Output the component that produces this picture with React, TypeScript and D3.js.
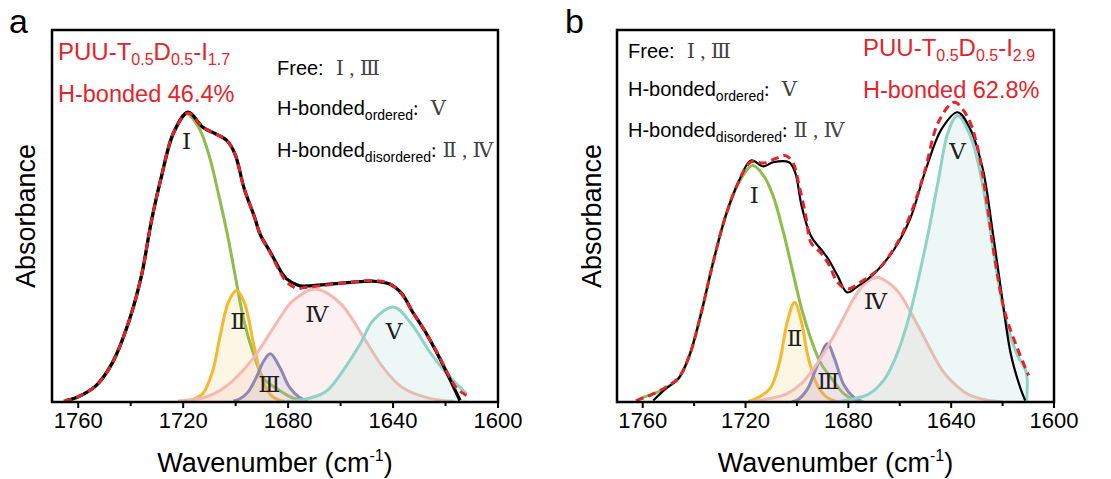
import React from "react";
import * as d3 from "d3";

type Pt = [number, number];

// ---------- axis / text data ----------
const xMajorTicks = [1760, 1720, 1680, 1640, 1600];
const xMinorTicks = [1740, 1700, 1660, 1620];
const xDomain: [number, number] = [1770, 1600];
const yDomain: [number, number] = [0, 100];
const xTitle = "Wavenumber (cm";
const xTitleSup = "-1";
const yTitle = "Absorbance";
const romanNames = ["Ⅰ", "Ⅱ", "Ⅲ", "Ⅳ", "Ⅴ"];
const compColors = ["#8dbd4a", "#f6b82c", "#777cb6", "#f2bab2", "#8fd3c8"];
const compFillOpacity = [0, 0.12, 0.14, 0.2, 0.16];

// ---------- panel a data (wavenumber, absorbance a.u.) ----------
const aMeasured: Pt[] = [
  [1764.7, 0.4], [1760.4, 1.3], [1753.1, 4.5], [1746.9, 10.7], [1740.8, 21.5],
  [1735.9, 34.1], [1732.2, 48.5], [1728.5, 60.2], [1723.6, 72.8], [1718.1, 78.2],
  [1712.6, 74.2], [1707.7, 72.4], [1703.4, 70.6], [1700.3, 67.0], [1696.7, 57.5],
  [1693.0, 50.3], [1690.5, 45.0], [1686.8, 40.5], [1683.0, 35.5], [1680.7, 33.3],
  [1676.5, 31.6], [1674.6, 31.3], [1666.0, 31.7], [1656.2, 32.3], [1647.6, 32.6],
  [1641.5, 31.9], [1636.6, 29.2], [1632.9, 24.7], [1628.0, 19.3], [1623.1, 13.0],
  [1618.1, 5.8], [1614.5, 0.4],
];
const aFit: Pt[] = [
  [1765.5, 0.2], [1760.4, 1.3], [1753.1, 4.5], [1746.9, 10.7], [1740.8, 21.5],
  [1735.9, 34.1], [1732.2, 48.5], [1728.5, 60.2], [1723.6, 72.8], [1718.1, 78.0],
  [1712.6, 74.2], [1707.7, 72.4], [1703.4, 70.6], [1700.3, 67.0], [1696.7, 57.5],
  [1693.0, 50.3], [1690.5, 45.0], [1686.8, 40.2], [1683.0, 35.0], [1680.7, 32.5],
  [1676.5, 30.6], [1674.6, 30.8], [1666.0, 31.5], [1656.2, 32.3], [1647.6, 32.8],
  [1641.5, 32.0], [1636.6, 29.0], [1632.9, 24.7], [1628.0, 19.3], [1623.1, 13.2],
  [1618.1, 6.3], [1615.5, 3.5], [1612.0, 1.8],
];
const aPeakI: Pt[] = [
  [1765.5, 0.3], [1760.4, 1.3], [1753.1, 4.5], [1746.9, 10.7], [1740.8, 21.5],
  [1735.9, 34.1], [1732.2, 48.5], [1728.5, 60.2], [1723.6, 72.5], [1718.7, 77.8],
  [1713.8, 73.7], [1710.1, 66.5], [1706.4, 55.7], [1702.8, 44.0], [1699.7, 32.3],
  [1696.7, 21.5], [1693.0, 12.6], [1689.3, 6.3], [1683.2, 3.1], [1678.3, 1.1],
  [1673.3, 0.3],
];
const aPeakII: Pt[] = [
  [1720, 0.2], [1716, 0.8], [1712.6, 2.2], [1708.9, 8.0], [1705.9, 17.9],
  [1702.8, 26.9], [1699.7, 30.1], [1696.7, 26.9], [1693.0, 15.2], [1689.9, 6.3],
  [1686.5, 1.8], [1683, 0.4], [1680, 0.1],
];
const aPeakIII: Pt[] = [
  [1701, 0.2], [1698.5, 0.8], [1695.4, 2.6], [1692, 6.8], [1689.5, 10.8], [1686.8, 13.0],
  [1683.2, 9.4], [1679.5, 4.0], [1675.8, 1.3], [1672.5, 0.3],
];
const aPeakIV: Pt[] = [
  [1722, 0.3], [1712, 1.2], [1703.7, 4.2], [1693.6, 11.5], [1684.7, 21.0],
  [1678.3, 27.2], [1669.7, 30.5], [1659.9, 26.5], [1651.3, 17.5], [1643.9, 9.4],
  [1636.6, 4.0], [1626.7, 1.1], [1617, 0.2],
];
const aPeakV: Pt[] = [
  [1682, 0.1], [1674.6, 0.6], [1666.0, 2.6], [1659.9, 7.6], [1652.5, 15.7],
  [1647.6, 22.0], [1639.6, 25.6], [1632.9, 21.0], [1625.5, 13.0], [1619.4, 7.6],
  [1612.0, 2.2],
];
const aLabelAt: Pt[] = [[1718.7, 68.4], [1699.1, 19.6], [1687.2, 2.6], [1669.1, 21.7], [1639.6, 16.9]];

// ---------- panel b data ----------
const bMeasured: Pt[] = [
  [1755.9, 0.4], [1751.0, 3.6], [1746.1, 6.3], [1741.8, 12.6], [1737.5, 23.3],
  [1732.6, 37.7], [1727.7, 50.3], [1722.8, 59.3], [1717.9, 65.2], [1713.0, 63.6],
  [1709.3, 64.7], [1703.1, 64.7], [1700.7, 62.0], [1698.2, 53.0], [1694.6, 44.9],
  [1689.7, 40.4], [1687.8, 38.6], [1684.2, 34.1], [1680.5, 29.6], [1676.8, 31.0],
  [1669.4, 35.0], [1662.1, 41.3], [1656.0, 49.4], [1649.8, 62.9], [1643.7, 73.7],
  [1637.5, 78.2], [1632.6, 73.7], [1627.7, 62.9], [1624.0, 46.7], [1620.3, 28.7],
  [1616.7, 12.6], [1613.0, 3.6], [1611.2, 0.4],
];
const bFit: Pt[] = [
  [1762.6, 0.3], [1755.9, 2.2], [1751.0, 4.0], [1746.1, 6.5], [1741.8, 12.6],
  [1737.5, 23.3], [1732.6, 37.7], [1727.7, 50.3], [1722.8, 59.3], [1717.9, 64.8],
  [1713.0, 64.5], [1708.0, 65.8], [1704.4, 66.5], [1701.5, 64.5], [1699.0, 58.0],
  [1696.5, 50.0], [1694.6, 43.1], [1690.9, 40.4], [1687.5, 37.0], [1684.2, 32.3],
  [1680.5, 30.5], [1674.3, 32.8], [1668.2, 35.9], [1660.8, 43.1], [1656.0, 50.3],
  [1650.4, 62.0], [1645.0, 75.5], [1638.8, 80.9], [1633.9, 77.3], [1630.2, 70.1],
  [1626.5, 55.7], [1622.8, 37.7], [1619.1, 24.2], [1614.2, 14.4], [1609.9, 7.2],
];
const bPeakI: Pt[] = [
  [1762.6, 0.3], [1759.6, 1.3], [1755.9, 2.2], [1751.0, 3.8], [1746.1, 6.3],
  [1741.8, 12.6], [1737.5, 23.3], [1732.6, 37.7], [1727.7, 50.3], [1722.8, 59.0],
  [1717.3, 63.8], [1713.0, 61.1], [1709.3, 55.7], [1705.6, 46.7], [1701.9, 36.0],
  [1698.2, 25.2], [1694.6, 17.1], [1690.9, 10.7], [1685.4, 5.3], [1681.7, 2.2],
  [1678.0, 0.7], [1674, 0.1],
];
const bPeakII: Pt[] = [
  [1719, 0.2], [1716.6, 0.7], [1710.5, 3.6], [1706.8, 10.7], [1703.8, 21.5],
  [1700.9, 26.9], [1698.2, 21.5], [1695.8, 12.6], [1692.1, 4.5], [1688.4, 1.3],
  [1685, 0.2],
];
const bPeakIII: Pt[] = [
  [1702, 0.1], [1699.5, 0.7], [1695.8, 3.6], [1692.1, 9.9], [1688.1, 15.7],
  [1685.4, 11.7], [1681.7, 4.5], [1678.0, 1.3], [1675, 0.2],
];
const bPeakIV: Pt[] = [
  [1718, 0.1], [1710, 1.0], [1704, 2.2], [1698.2, 5.0], [1692.7, 9.8],
  [1687.2, 16.0], [1682.2, 22.3], [1678.0, 27.8], [1673.5, 32.0], [1668.8, 33.7],
  [1664, 32.0], [1660.2, 29.4], [1652.4, 19.9], [1643.4, 8.5], [1638, 4.4],
  [1633.0, 1.9], [1626, 0.5], [1620, 0.1],
];
const bPeakV: Pt[] = [
  [1685, 0.1], [1679.2, 0.7], [1671.9, 2.2], [1665.8, 6.3], [1660.8, 13.4],
  [1655.9, 24.2], [1652.2, 35.0], [1648.6, 46.7], [1644.9, 60.2], [1641.2, 72.8],
  [1637.5, 77.3], [1632.6, 71.9], [1629.0, 62.9], [1625.3, 48.5], [1621.6, 32.3],
  [1617.9, 19.8], [1614.2, 12.6], [1610.8, 8.0], [1610.7, 0],
];
const bLabelAt: Pt[] = [[1716.6, 53.6], [1700.9, 15.0], [1687.8, 3.4], [1669.4, 25.2], [1637.5, 65.7]];

const aSample = { main: "PUU-T", s1: "0.5", m2: "D", s2: "0.5", m3: "-I", s3: "1.7", hb: "H-bonded 46.4%" };
const bSample = { main: "PUU-T", s1: "0.5", m2: "D", s2: "0.5", m3: "-I", s3: "2.9", hb: "H-bonded 62.8%" };

const SANS = "'Liberation Sans', Arial, Helvetica, sans-serif";
const SERIF = "'Liberation Serif', 'DejaVu Serif', 'Times New Roman', serif";
const RED = "#e3242b";

type PanelProps = {
  id: string;
  x0: number;
  width: number;
  letter: string;
  letterX: number;
  measured: Pt[];
  fit: Pt[];
  comps: Pt[][];
  labelAt: Pt[];
  sample: typeof aSample;
  redX: number;
  redY: number;
  legX: number;
  legYs: number[];
  measuredWidth: number;
  yTitleX: number;
};

function Panel(p: PanelProps) {
  const W = p.width;
  const top = 30;
  const bottom = 402;
  const x = d3.scaleLinear().domain(xDomain).range([p.x0, p.x0 + W]);
  const y = d3.scaleLinear().domain(yDomain).range([bottom, 31.5]);
  const curve = d3.curveCatmullRom.alpha(0.5);
  const line = d3.line<Pt>().x((d) => x(d[0])).y((d) => y(d[1])).curve(curve);
  const area = d3
    .area<Pt>()
    .x((d) => x(d[0]))
    .y0(y(0))
    .y1((d) => y(d[1]))
    .curve(curve);
  const clipId = `clip-${p.id}`;
  const cx = p.x0 + W / 2;
  const s = p.sample;
  return (
    <g>
      <defs>
        <clipPath id={clipId}>
          <rect x={p.x0} y={top} width={W} height={bottom - top} />
        </clipPath>
      </defs>
      <text x={p.letterX} y={33} fontFamily={SANS} fontSize={34} fill="#000">
        {p.letter}
      </text>
      <g clipPath={`url(#${clipId})`}>
        {p.comps.map((c, i) => (
          <g key={i}>
            {compFillOpacity[i] > 0 && (
              <path d={area(c) || ""} fill={compColors[i]} fillOpacity={compFillOpacity[i]} stroke="none" />
            )}
            <path d={line(c) || ""} fill="none" stroke={compColors[i]} strokeWidth={3} strokeLinejoin="round" />
          </g>
        ))}
        <path d={line(p.measured) || ""} fill="none" stroke="#000" strokeWidth={p.measuredWidth} strokeLinejoin="round" />
        <path d={line(p.fit) || ""} fill="none" stroke={RED} strokeWidth={3} strokeDasharray="8,5" />
      </g>
      {p.labelAt.map((d, i) => (
        <text key={i} x={x(d[0])} y={y(d[1])} textAnchor="middle" fontFamily={SERIF} fontSize={23} fill="#1e1e1e">
          {romanNames[i]}
        </text>
      ))}
      {/* frame */}
      <rect x={p.x0} y={top} width={W} height={bottom - top} fill="none" stroke="#000" strokeWidth={2.5} />
      {xMajorTicks.map((t) => (
        <g key={t}>
          <line x1={x(t)} x2={x(t)} y1={bottom} y2={bottom + 6} stroke="#000" strokeWidth={2} />
          <text x={x(t)} y={428} textAnchor="middle" fontFamily={SANS} fontSize={22} fill="#000">
            {t}
          </text>
        </g>
      ))}
      {xMinorTicks.map((t) => (
        <line key={t} x1={x(t)} x2={x(t)} y1={bottom} y2={bottom + 4} stroke="#000" strokeWidth={2} />
      ))}
      <text x={cx} y={472} textAnchor="middle" fontFamily={SANS} fontSize={27} fill="#000">
        {xTitle}
        <tspan fontSize={16} dy={-11}>{xTitleSup}</tspan>
        <tspan dy={11}>)</tspan>
      </text>
      <text
        transform={`translate(${p.yTitleX},${(top + bottom) / 2}) rotate(-90)`}
        textAnchor="middle"
        fontFamily={SANS}
        fontSize={27}
        fill="#000"
      >
        {yTitle}
      </text>
      {/* sample text */}
      <text x={p.redX} y={p.redY} fontFamily={SANS} fontSize={24} fill={RED}>
        {s.main}
        <tspan fontSize={16} dy={5}>{s.s1}</tspan>
        <tspan dy={-5}>{s.m2}</tspan>
        <tspan fontSize={16} dy={5}>{s.s2}</tspan>
        <tspan dy={-5}>{s.m3}</tspan>
        <tspan fontSize={16} dy={5}>{s.s3}</tspan>
      </text>
      <text x={p.redX} y={p.redY + 42} fontFamily={SANS} fontSize={23.5} fill={RED}>
        {s.hb}
      </text>
      {/* legend text */}
      <text x={p.legX} y={p.legYs[0]} fontFamily={SANS} fontSize={20} fill="#000">
        Free:
        <tspan dx={12} fontFamily={SERIF} fontSize={21} fill="#444">{romanNames[0]}</tspan>
        <tspan fontFamily={SERIF} fontSize={21} fill="#444">{" , "}</tspan>
        <tspan fontFamily={SERIF} fontSize={21} fill="#444">{romanNames[2]}</tspan>
      </text>
      <text x={p.legX} y={p.legYs[1]} fontFamily={SANS} fontSize={20} fill="#000">
        H-bonded
        <tspan fontSize={14} dy={5}>ordered</tspan>
        <tspan dy={-5} fontFamily={SERIF}>:</tspan>
        <tspan dx={12} fontFamily={SERIF} fontSize={21} fill="#444">{romanNames[4]}</tspan>
      </text>
      <text x={p.legX} y={p.legYs[2]} fontFamily={SANS} fontSize={20} fill="#000">
        H-bonded
        <tspan fontSize={14} dy={5}>disordered</tspan>
        <tspan dy={-5} fontFamily={SERIF}>:</tspan>
        <tspan dx={6} fontFamily={SERIF} fontSize={21} fill="#444">{romanNames[1]}</tspan>
        <tspan fontFamily={SERIF} fontSize={21} fill="#444">{" , "}</tspan>
        <tspan fontFamily={SERIF} fontSize={21} fill="#444">{romanNames[3]}</tspan>
      </text>
    </g>
  );
}

export default function App() {
  return (
    <svg
      width={1111}
      height={479}
      viewBox="0 0 1111 479"
      style={{ position: "absolute", left: 0, top: 0, background: "#fff" }}
    >
      <rect x={0} y={0} width={1111} height={479} fill="#fff" />
      <Panel
        id="a"
        x0={52}
        width={446}
        letter="a"
        letterX={9}
        measured={aMeasured}
        fit={aFit}
        comps={[aPeakI, aPeakII, aPeakIII, aPeakIV, aPeakV]}
        labelAt={aLabelAt}
        sample={aSample}
        redX={58}
        redY={60}
        legX={277}
        legYs={[75, 115, 157]}
        measuredWidth={3.3}
        yTitleX={35}
      />
      <Panel
        id="b"
        x0={617}
        width={437}
        letter="b"
        letterX={565}
        measured={bMeasured}
        fit={bFit}
        comps={[bPeakI, bPeakII, bPeakIII, bPeakIV, bPeakV]}
        labelAt={bLabelAt}
        sample={bSample}
        redX={863}
        redY={56}
        legX={628}
        legYs={[58, 96, 137]}
        measuredWidth={2.2}
        yTitleX={601}
      />
    </svg>
  );
}
